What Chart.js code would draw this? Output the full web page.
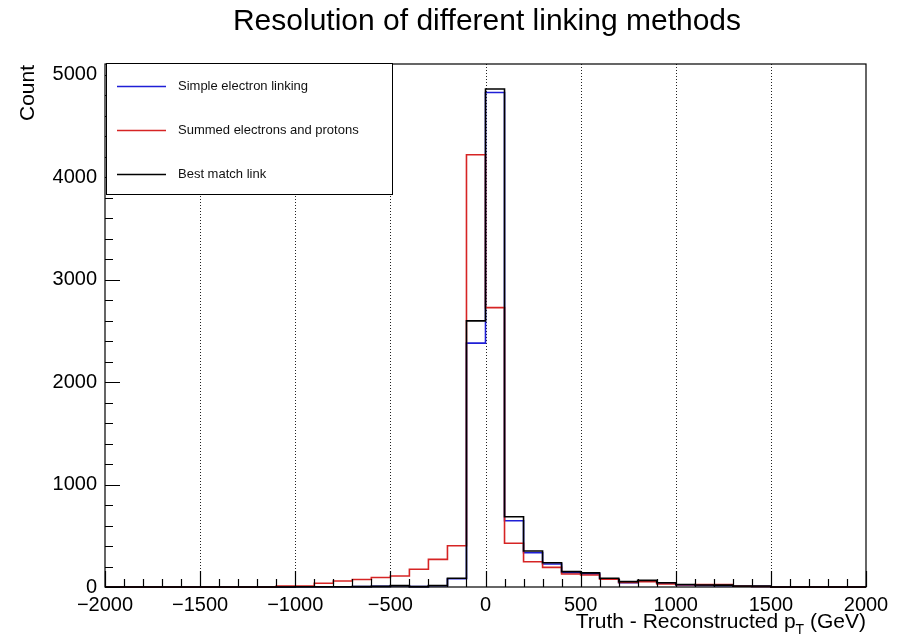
<!DOCTYPE html>
<html>
<head>
<meta charset="utf-8">
<title>Resolution of different linking methods</title>
<script src="https://cdn.jsdelivr.net/npm/chart.js@4.4.1/dist/chart.umd.min.js"></script>
<style>
  html, body { margin: 0; padding: 0; background: #fff; }
  #wrap { width: 900px; height: 636px; }
</style>
</head>
<body>
<div id="wrap"><canvas id="resolution"></canvas></div>
<script>
// bin lower edges, 100 GeV wide, range -2000..2000
const binLow = [
  -2000, -1900, -1800, -1700, -1600, -1500, -1400, -1300, -1200, -1100,
  -1000, -900, -800, -700, -600, -500, -400, -300, -200, -100,
  0, 100, 200, 300, 400, 500, 600, 700, 800, 900,
  1000, 1100, 1200, 1300, 1400, 1500, 1600, 1700, 1800, 1900
];
const binHigh = 2000;

const simpleElectron = [
  0, 0, 0, 0, 0, 0, 0, 0, 0, 0,
  2, 2, 3, 4, 6, 12, 4, 12, 80, 2380,
  4827, 647, 335, 225, 140, 128, 80, 42, 58, 36,
  20, 15, 12, 8, 6, 0, 0, 0, 0, 0
];
const summedElectronProton = [
  0, 0, 0, 0, 0, 0, 0, 0, 0, 10,
  10, 36, 58, 73, 93, 107, 173, 270, 403, 4219,
  2727, 427, 247, 192, 127, 117, 75, 45, 52, 30,
  22, 23, 23, 8, 5, 0, 0, 0, 0, 0
];
const bestMatch = [
  0, 0, 0, 0, 0, 0, 0, 0, 0, 0,
  2, 2, 3, 4, 6, 13, 4, 14, 85, 2598,
  4861, 686, 352, 237, 150, 138, 85, 52, 65, 42,
  25, 20, 18, 10, 10, 0, 0, 0, 0, 0
];

const xTicks = [-2000, -1500, -1000, -500, 0, 500, 1000, 1500, 2000];
const yTicks = [0, 1000, 2000, 3000, 4000, 5000];
const yMax = 5105;

const FONT = '"Liberation Sans", Arial, Helvetica, sans-serif';

function histPoints(values) {
  const pts = values.map((v, i) => ({ x: binLow[i], y: v }));
  pts.push({ x: binHigh, y: values[values.length - 1] });
  return pts;
}

function fmtTick(v) {
  return v < 0 ? '\u2212' + Math.abs(v) : String(v);
}

const series = [
  { label: 'Simple electron linking', data: simpleElectron, color: '#1f1fd6', order: 2 },
  { label: 'Summed electrons and protons', data: summedElectronProton, color: '#d62424', order: 1 },
  { label: 'Best match link', data: bestMatch, color: '#000000', order: 0 }
];

// dotted verticals, frame, inward ticks, legend box and titles (ROOT look)
const rootDecor = {
  id: 'rootDecor',
  beforeDatasetsDraw(chart) {
    const { ctx, chartArea: a, scales: { x } } = chart;
    ctx.save();
    ctx.strokeStyle = '#222';
    ctx.lineWidth = 1;
    ctx.setLineDash([1, 2]);
    xTicks.slice(1, -1).forEach(v => {
      const px = Math.round(x.getPixelForValue(v)) + 0.5;
      ctx.beginPath();
      ctx.moveTo(px, a.bottom);
      ctx.lineTo(px, a.top);
      ctx.stroke();
    });
    ctx.restore();
  },
  afterDatasetsDraw(chart) {
    const { ctx, chartArea: a, scales: { x, y } } = chart;
    ctx.save();
    ctx.strokeStyle = '#000';
    ctx.lineWidth = 1.2;
    ctx.strokeRect(a.left, a.top, a.right - a.left, a.bottom - a.top);

    // x ticks pointing up
    ctx.beginPath();
    for (let v = -2000; v <= 2000; v += 100) {
      const px = Math.round(x.getPixelForValue(v)) + 0.5;
      const len = v % 500 === 0 ? 16 : 8;
      ctx.moveTo(px, a.bottom);
      ctx.lineTo(px, a.bottom - len);
    }
    // y ticks pointing right
    for (let v = 0; v <= yMax; v += 200) {
      const py = Math.round(y.getPixelForValue(v)) + 0.5;
      const len = v % 1000 === 0 ? 15 : 8;
      ctx.moveTo(a.left, py);
      ctx.lineTo(a.left + len, py);
    }
    ctx.stroke();

    // legend
    const lx = 106, ly = 63, lw = 286, lh = 131;
    ctx.fillStyle = '#fff';
    ctx.fillRect(lx, ly, lw, lh);
    ctx.lineWidth = 1;
    ctx.strokeRect(lx + 0.5, ly + 0.5, lw, lh);
    ctx.font = '13px ' + FONT;
    ctx.textBaseline = 'middle';
    ctx.textAlign = 'left';
    const rows = [86, 130, 174];
    chart.data.datasets.forEach((ds, i) => {
      const ry = rows[i] + 0.5;
      ctx.strokeStyle = ds.borderColor;
      ctx.lineWidth = 1.3;
      ctx.beginPath();
      ctx.moveTo(117, ry);
      ctx.lineTo(166, ry);
      ctx.stroke();
      ctx.fillStyle = '#111';
      ctx.fillText(ds.label, 178, rows[i]);
    });

    // title
    ctx.fillStyle = '#000';
    ctx.font = '30px ' + FONT;
    ctx.textAlign = 'center';
    ctx.textBaseline = 'alphabetic';
    ctx.fillText('Resolution of different linking methods', 487, 30);

    // x axis title with subscript T, right aligned to the frame
    ctx.font = '21px ' + FONT;
    const partA = 'Truth - Reconstructed p';
    const partB = ' (GeV)';
    const wA = ctx.measureText(partA).width;
    const wB = ctx.measureText(partB).width;
    ctx.font = '14px ' + FONT;
    const wT = ctx.measureText('T').width;
    let tx = a.right - (wA + wT + wB);
    ctx.textAlign = 'left';
    ctx.font = '21px ' + FONT;
    ctx.fillText(partA, tx, 628);
    tx += wA;
    ctx.font = '14px ' + FONT;
    ctx.fillText('T', tx, 634);
    tx += wT;
    ctx.font = '21px ' + FONT;
    ctx.fillText(partB, tx, 628);

    // y axis title
    ctx.translate(34, 65);
    ctx.rotate(-Math.PI / 2);
    ctx.textAlign = 'right';
    ctx.fillText('Count', 0, 0);
    ctx.restore();
  }
};

new Chart(document.getElementById('resolution'), {
  type: 'line',
  data: {
    datasets: series.map(s => ({
      label: s.label,
      data: histPoints(s.data),
      borderColor: s.color,
      backgroundColor: s.color,
      borderWidth: 1.6,
      stepped: 'before',
      pointRadius: 0,
      fill: false,
      order: s.order,
      clip: 3
    }))
  },
  options: {
    responsive: true,
    maintainAspectRatio: false,
    animation: false,
    layout: { padding: { left: 0, top: 64, right: 34, bottom: 0 } },
    plugins: {
      legend: { display: false },
      tooltip: { enabled: false },
      title: { display: false }
    },
    scales: {
      x: {
        type: 'linear',
        min: -2000,
        max: 2000,
        grid: { display: false, drawTicks: false },
        border: { display: false },
        afterBuildTicks: s => { s.ticks = xTicks.map(v => ({ value: v })); },
        afterFit: s => { s.height = 49; },
        ticks: {
          autoSkip: false,
          maxRotation: 0,
          padding: 6,
          color: '#000',
          font: { family: FONT, size: 20 },
          callback: v => fmtTick(v)
        }
      },
      y: {
        type: 'linear',
        min: 0,
        max: yMax,
        grid: { display: false, drawTicks: false },
        border: { display: false },
        afterBuildTicks: s => { s.ticks = yTicks.map(v => ({ value: v })); },
        afterFit: s => { s.width = 105; },
        ticks: {
          padding: 8,
          color: '#000',
          font: { family: FONT, size: 20 },
          callback: v => fmtTick(v)
        }
      }
    }
  },
  plugins: [rootDecor]
});
</script>
</body>
</html>
